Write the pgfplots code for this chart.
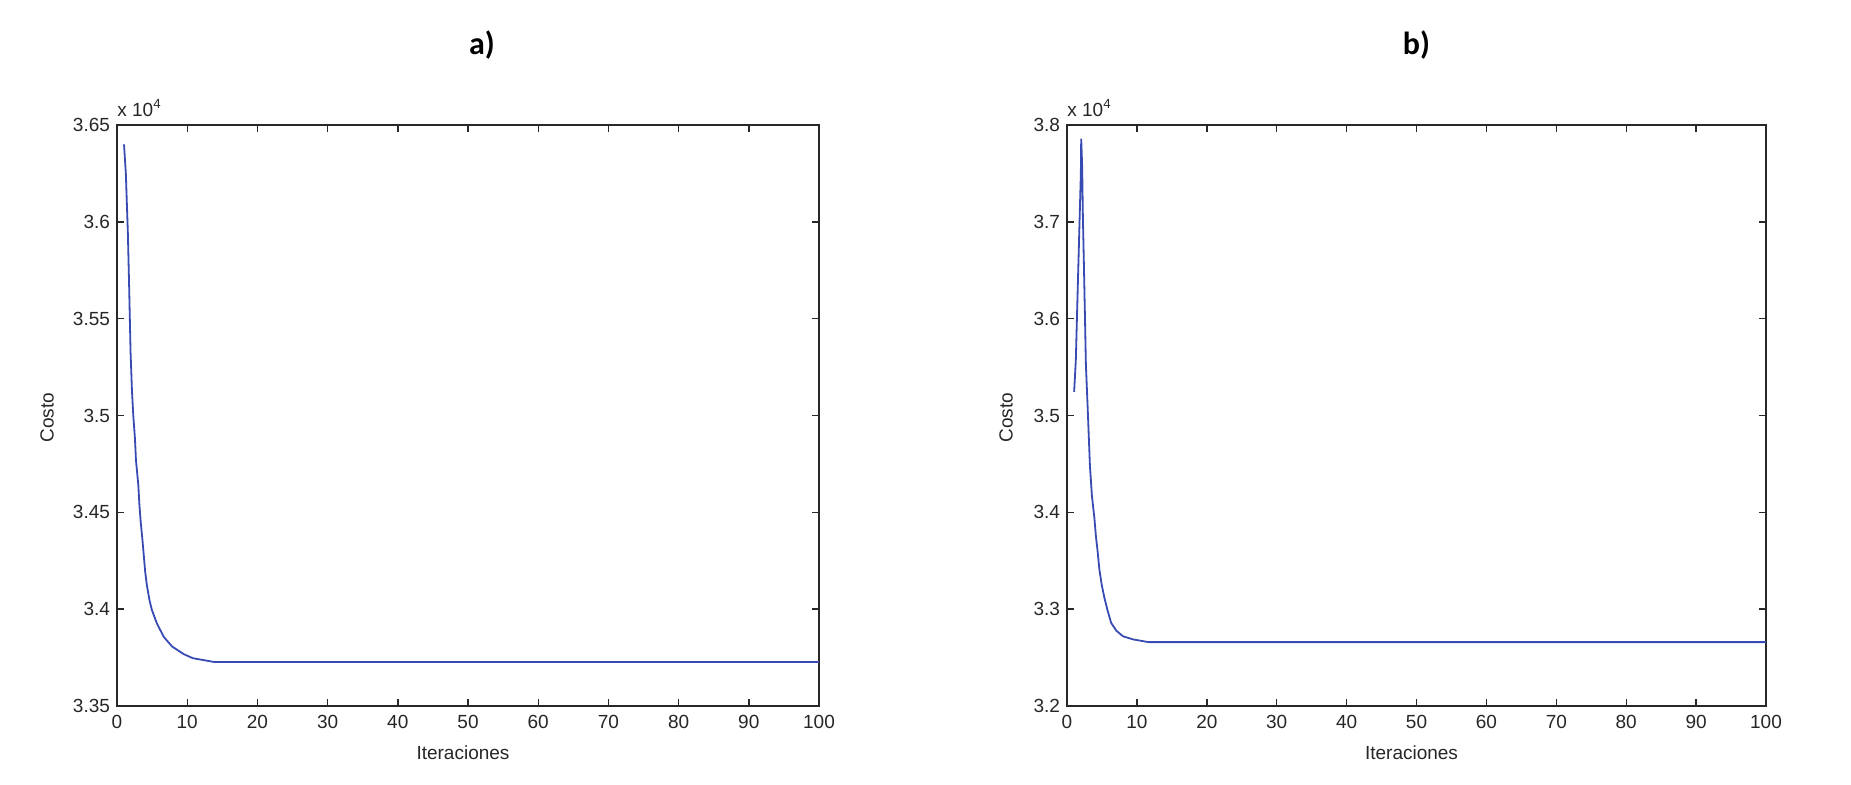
\documentclass[border=0pt]{standalone}
\usepackage{fontspec}
\setmainfont{Liberation Sans}
\newfontfamily\titlefont{Carlito}
\usepackage{pgfplots}
\pgfplotsset{compat=1.18}
\definecolor{mline}{RGB}{55,75,178}
\definecolor{axcol}{RGB}{40,40,40}
\pgfplotsset{
  mstyle/.style={
    scale only axis,
    width=351pt, height=290.5pt,
    xmin=0, xmax=100,
    xtick={0,10,...,100},
    tick align=inside,
    xtick pos=both, ytick pos=both,
    major tick length=3.5pt,
    axis line style={axcol, line width=0.7pt},
    every tick/.style={axcol, line width=0.7pt},
    tick label style={font=\fontsize{9.5}{10}\selectfont, text=black!85},
    /pgf/number format/assume math mode=true,
    xticklabel style={yshift=-1pt},
    xlabel={Iteraciones},
    ylabel={Costo},
    label style={font=\fontsize{9.5}{11}\selectfont, text=black!85},
    xlabel style={at={(axis description cs:0.5,0)}, anchor=center, yshift=-23.5pt, xshift=-2.5pt},
    clip mode=individual,
  },
}
\begin{document}
\begin{tikzpicture}
\useasboundingbox (0,0) rectangle (925.5pt,-392pt);
% ---------------- a) ----------------
\begin{axis}[mstyle,
  at={(58.5pt,-353pt)}, anchor=south west,
  ymin=3.35, ymax=3.65,
  ytick={3.35,3.4,3.45,3.5,3.55,3.6,3.65},
  yticklabels={3.35,3.4,3.45,3.5,3.55,3.6,3.65},
  ylabel style={at={(axis description cs:0,0.5)}, anchor=center, yshift=35pt, xshift=-1pt},
]
\addplot[mline, line width=0.9pt] coordinates {
(1.00,3.6400) (1.26,3.6250) (1.55,3.5940) (1.74,3.5650) (1.93,3.5330)
(2.13,3.5130) (2.32,3.5000) (2.56,3.4880) (2.70,3.4770) (3.04,3.4640)
(3.19,3.4540) (3.38,3.4450) (3.62,3.4360) (3.81,3.4280) (4.01,3.4195)
(4.25,3.4125) (4.63,3.4046) (4.97,3.3996) (5.69,3.3926) (6.66,3.3857)
(7.86,3.3807) (9.55,3.3767) (10.8,3.3747) (13.9,3.3727) (100,3.3727)
};
\node[anchor=south west, inner sep=0pt, font=\fontsize{9.5}{10}\selectfont, text=black!85] at (rel axis cs:0,1) [yshift=4pt] {x 10\textsuperscript{4}};
\node[font=\titlefont\bfseries\fontsize{16}{18}\selectfont] at (rel axis cs:0.52,1) [yshift=40pt] {a)};
\end{axis}
% ---------------- b) ----------------
\begin{axis}[mstyle,
  at={(533.5pt,-353pt)}, anchor=south west,
  width=349.5pt,
  ymin=3.2, ymax=3.8,
  ytick={3.2,3.3,3.4,3.5,3.6,3.7,3.8},
  yticklabels={3.2,3.3,3.4,3.5,3.6,3.7,3.8},
  ylabel style={at={(axis description cs:0,0.5)}, anchor=center, yshift=30.5pt, xshift=-1pt},
]
\addplot[mline, line width=0.9pt] coordinates {
(1.02,3.5245) (1.26,3.5570) (1.50,3.6220) (1.74,3.6860) (1.98,3.7500)
(2.03,3.7860) (2.17,3.7570) (2.27,3.7060) (2.42,3.6550) (2.56,3.6050)
(2.70,3.5530) (2.95,3.5090) (3.28,3.4480) (3.57,3.4165) (3.91,3.3947)
(4.14,3.3750) (4.39,3.3590) (4.63,3.3410) (4.97,3.3250) (5.36,3.3115)
(5.84,3.2977) (6.32,3.2858) (7.04,3.2779) (8.01,3.2720) (9.45,3.2688)
(11.65,3.2660) (100,3.2660)
};
\node[anchor=south west, inner sep=0pt, font=\fontsize{9.5}{10}\selectfont, text=black!85] at (rel axis cs:0,1) [yshift=4pt] {x 10\textsuperscript{4}};
\node[font=\titlefont\bfseries\fontsize{16}{18}\selectfont] at (rel axis cs:0.5,1) [yshift=40pt] {b)};
\end{axis}
\end{tikzpicture}
\end{document}
